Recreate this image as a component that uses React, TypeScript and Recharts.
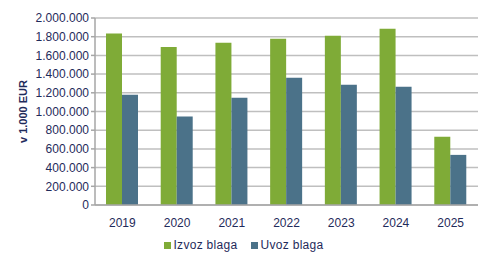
import { BarChart, Bar, XAxis, YAxis, CartesianGrid, Legend } from "recharts";

const years = ["2019", "2020", "2021", "2022", "2023", "2024", "2025"];
const izvoz = [1833000, 1689000, 1736000, 1779000, 1811000, 1886000, 729000];
const uvoz = [1179000, 946000, 1147000, 1361000, 1286000, 1265000, 536000];
const yTicks = [0, 200000, 400000, 600000, 800000, 1000000, 1200000, 1400000, 1600000, 1800000, 2000000];

const data = years.map((year, i) => ({
  year,
  izvoz: izvoz[i],
  uvoz: uvoz[i],
}));

const fmt = (v: number) => v.toString().replace(/\B(?=(\d{3})+(?!\d))/g, ".");

const textColor = "#1f2b5b";
const font = "'Liberation Sans', Arial, sans-serif";

function renderLegend() {
  const items = [
    { label: "Izvoz blaga", color: "#7fab37" },
    { label: "Uvoz blaga", color: "#4b7289" },
  ];
  return (
    <div style={{ display: "flex", justifyContent: "center", gap: 14, fontFamily: font, fontSize: 12, color: textColor }}>
      {items.map((it) => (
        <div key={it.label} style={{ display: "flex", alignItems: "center" }}>
          <span style={{ width: 7, height: 7, background: it.color, marginRight: 2 }} />
          <span style={{ letterSpacing: 0.3 }}>{it.label}</span>
        </div>
      ))}
    </div>
  );
}

export default function App() {
  return (
    <div style={{ position: "fixed", left: 0, top: 0, width: 492, height: 267, background: "#fff" }}>
      <BarChart
        width={492}
        height={267}
        data={data}
        margin={{ top: 18, right: 14, bottom: 16, left: 10 }}
        barGap={0}
      >
        <CartesianGrid vertical={false} stroke="#bfbfbf" strokeWidth={1.5} />
        <XAxis
          dataKey="year"
          stroke="#a6a6a6"
          strokeWidth={1.5}
          tickLine={false}
          height={32}
          tick={{ fill: textColor, fontSize: 12, fontFamily: font }}
          tickMargin={7}
        />
        <YAxis
          width={85}
          domain={[0, 2000000]}
          ticks={yTicks}
          interval={0}
          tickFormatter={fmt}
          stroke="#a6a6a6"
          strokeWidth={1.5}
          tickSize={4}
          tick={{ fill: textColor, fontSize: 12, fontFamily: font }}
          label={{
            value: "v 1.000 EUR",
            angle: -90,
            position: "insideLeft",
            offset: 13,
            style: { fill: textColor, fontSize: 11, fontWeight: "bold", fontFamily: font, textAnchor: "middle" },
          }}
        />
        <Legend content={renderLegend} wrapperStyle={{ top: 238 }} />
        <Bar dataKey="izvoz" name="Izvoz blaga" fill="#7fab37" barSize={16} isAnimationActive={false} />
        <Bar dataKey="uvoz" name="Uvoz blaga" fill="#4b7289" barSize={16} isAnimationActive={false} />
      </BarChart>
    </div>
  );
}
